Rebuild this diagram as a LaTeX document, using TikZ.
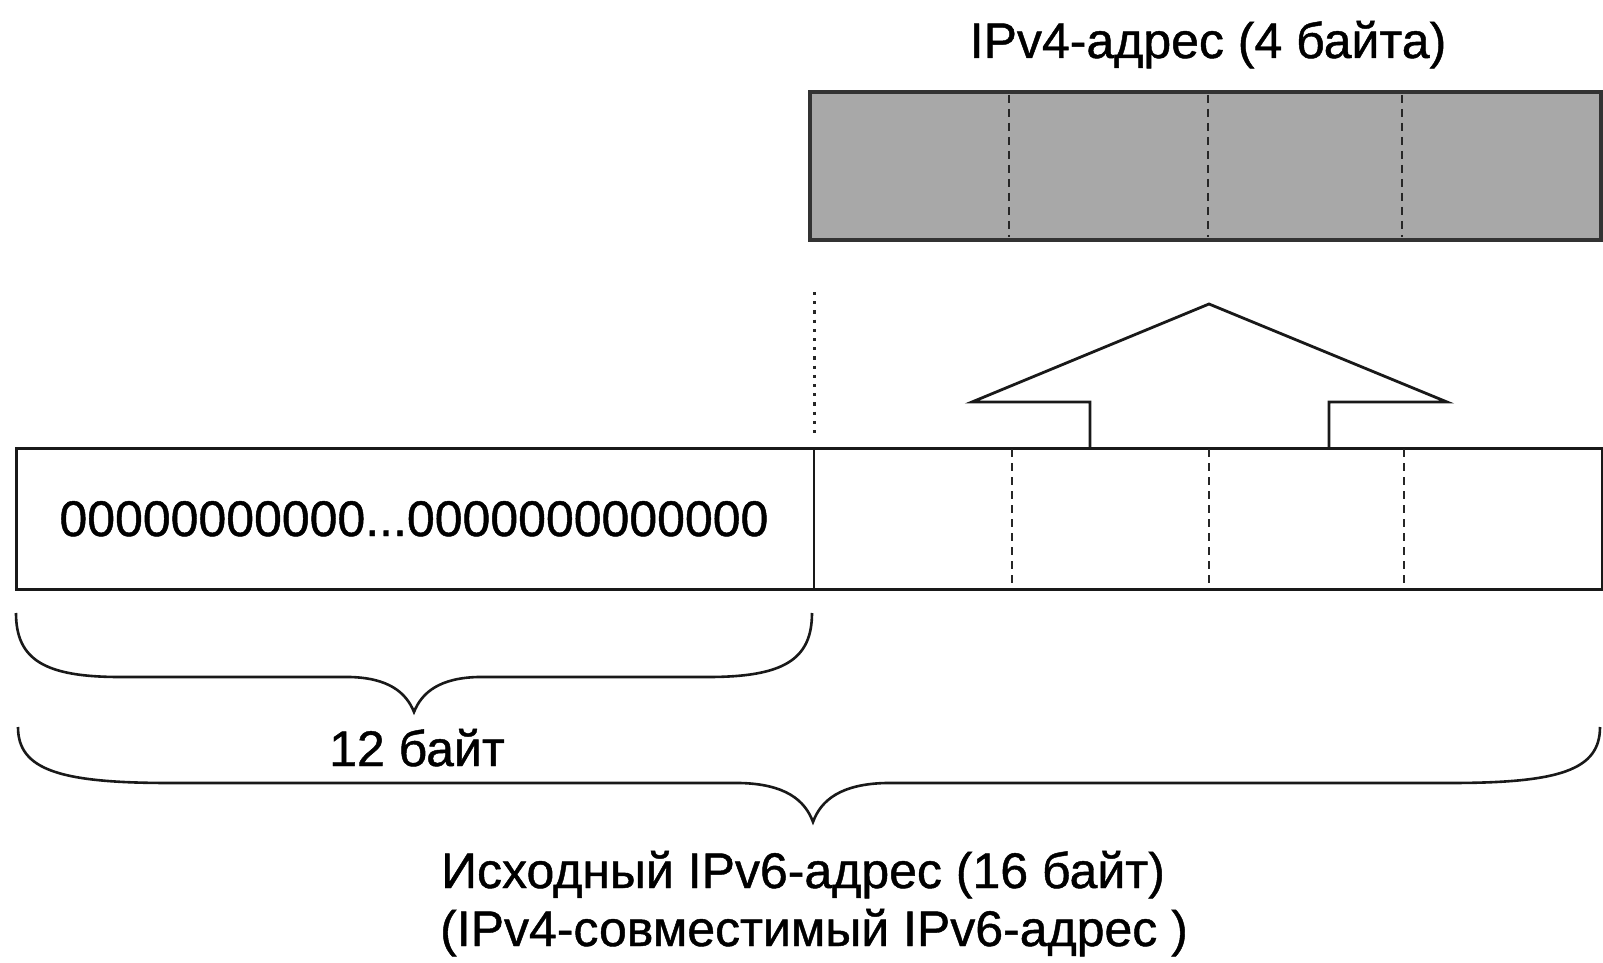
\documentclass[tikz,border=0pt]{standalone}
\usepackage{fontspec}
\setmainfont{Liberation Sans}
\newfontfamily\lblfont{Liberation Sans}[FakeBold=0.9]
\begin{document}
\begin{tikzpicture}[x=0.5pt,y=-0.5pt,
  solidline/.style={line width=1.4pt,black!90},
  dashline/.style={line width=1.15pt,black!85,dash pattern=on 4pt off 3pt},
  dotline/.style={line width=1.5pt,black!85,dash pattern=on 1.6pt off 3pt},
  bracestyle/.style={line width=1.3pt,black!90},
  lbl/.style={font=\lblfont\fontsize{25pt}{30pt}\selectfont,inner sep=0pt,anchor=base}]
\useasboundingbox (0,0) rectangle (1603,963);
% top gray block (IPv4)
\fill[gray!68] (810,92) rectangle (1601,240);
\draw[line width=1.7pt,black!80] (810,92) rectangle (1601,240);
\foreach \xx in {1009,1208,1402}{\draw[dashline] (\xx,95) -- (\xx,237);}
\node[lbl] (ipv4) at (1208,58) {IPv4-адрес (4 байта)};
% main IPv6 rectangle
\node[draw,solidline,minimum width=1586*0.5pt,minimum height=141*0.5pt,inner sep=0pt,anchor=north west] (main) at (15,447) {};
\draw[solidline] (814,447) -- (814,588);
\foreach \xx in {1012,1209,1404}{\draw[dashline] (\xx,449) -- (\xx,586);}
\node[lbl] (zeros) at (414,536) {00000000000...0000000000000};
% dotted separator
\coordinate (dtop) at (814,292);
\coordinate (dbot) at (814,437);
\draw[dotline] (dtop) -- (dbot);
% arrow
\coordinate (al) at (1090,447);
\coordinate (ar) at (1329,447);
\draw[line width=1.4pt,black!90,line join=miter] (al) -- (1090,402) -- (972,402) -- (1209,304) -- (1447,402) -- (1329,402) -- (ar);
% brace 12 bytes
\coordinate (b1l) at (16,613);
\coordinate (b1r) at (812,613);
\draw[bracestyle] (b1l) .. controls (16,660) and (45,677) .. (120,677) -- (350,677)
  .. controls (388,678) and (406,692) .. (414,712)
  .. controls (422,692) and (440,678) .. (478,677) -- (708,677)
  .. controls (783,677) and (812,660) .. (b1r);
\node[lbl] (b12) at (417,766) {12 байт};
% brace 16 bytes
\coordinate (b2l) at (18,727);
\coordinate (b2r) at (1600,727);
\draw[bracestyle] (b2l) .. controls (18,770) and (60,783) .. (170,783) -- (740,783)
  .. controls (785,784) and (805,800) .. (813,822)
  .. controls (821,800) and (841,784) .. (886,783) -- (1450,783)
  .. controls (1560,783) and (1600,770) .. (b2r);
\node[lbl] (b16a) at (803,888) {Исходный IPv6-адрес (16 байт)};
\node[lbl] (b16b) at (814,946) {(IPv4-совместимый IPv6-адрес )};
\end{tikzpicture}
\end{document}
